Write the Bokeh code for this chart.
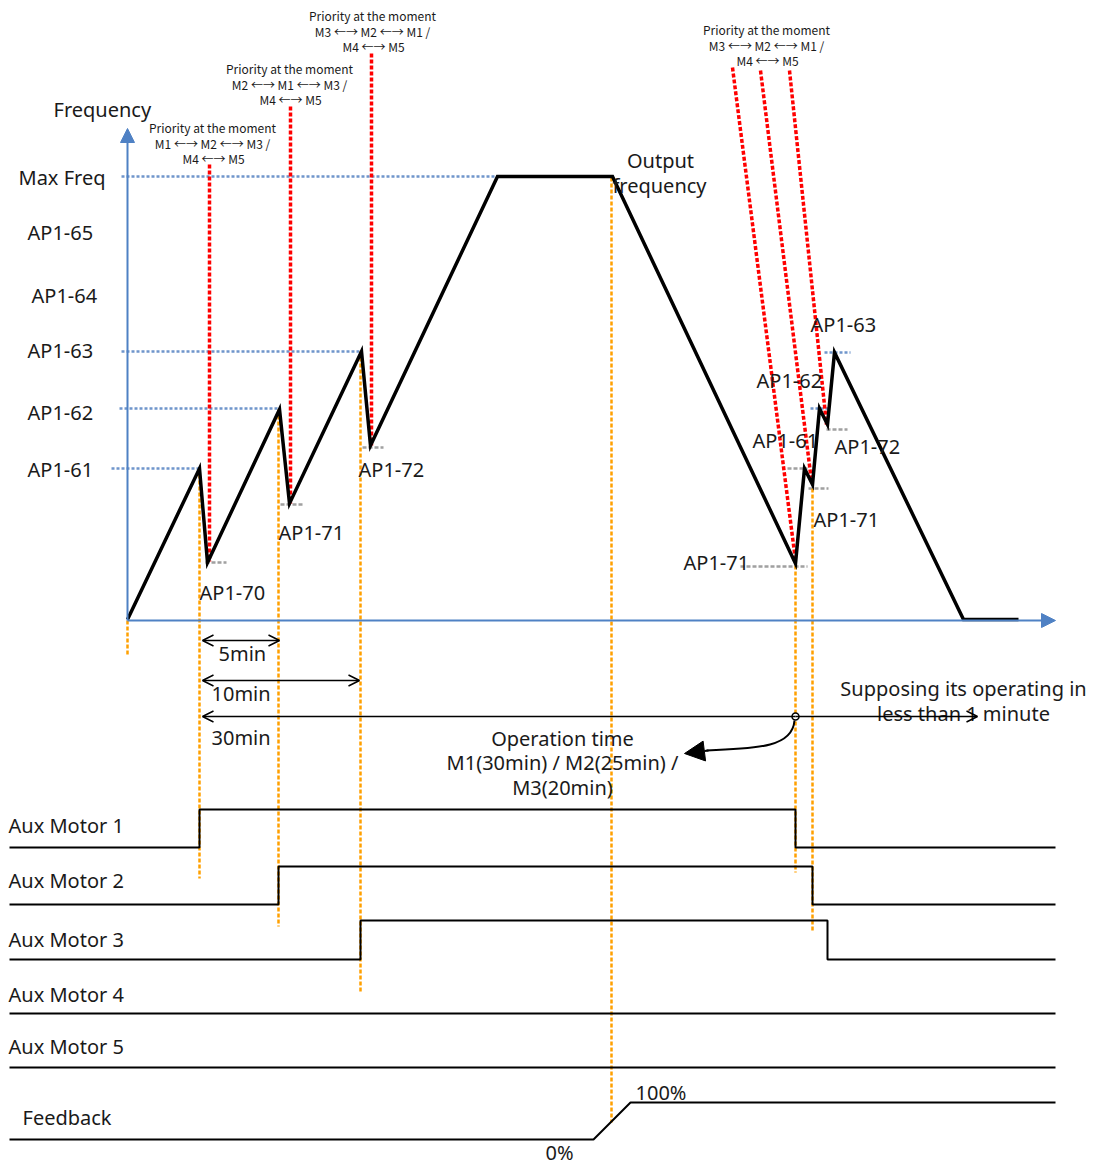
from bokeh.plotting import figure
from bokeh.models import Range1d, Arrow, OpenHead, NormalHead
from bokeh.core.properties import value
from bokeh.embed import file_html
from bokeh.resources import INLINE

FONT = value("Noto Sans")
FONT_SMALL = value("Noto Sans CJK KR")

# ---------------- data (diagram units) ----------------
# output-frequency profile (time, frequency-level position)
profile_t = [127, 199, 207, 279, 289, 361, 370, 497, 612, 795, 804, 812, 819, 827, 834, 963, 1018]
profile_f = [619, 468, 562, 409, 503, 351, 445, 176, 176, 563, 468, 484, 408, 424, 352, 619, 619]

# frequency levels on the vertical axis
level_names = ["Max Freq", "AP1-65", "AP1-64", "AP1-63", "AP1-62", "AP1-61"]
level_pos = [177, 232, 295, 350, 412, 469]
level_x = [18, 27, 31, 27, 27, 27]

# blue reference (start level) lines
ref_x0 = [121, 121, 119, 111, 824, 810]
ref_x1 = [612, 360, 279, 199, 850, 830]
ref_y = [176, 351, 408, 468, 352, 408]

# grey stop-level ticks
stop_x0 = [205, 280, 362, 740, 787, 808, 826]
stop_x1 = [226, 302, 383, 807, 807, 828, 847]
stop_y = [562, 504, 447, 566, 468, 488, 429]

# red priority markers (x top, y top, x bottom, y bottom)
pri_xt = [209, 290, 371, 732, 760, 789]
pri_yt = [164, 106, 53, 67, 70, 70]
pri_xb = [209, 290, 371, 795, 811, 826]
pri_yb = [561, 503, 445, 560, 481, 424]

# orange event markers
evt_x = [127, 199, 278, 360, 611, 795, 812]
evt_y0 = [620, 468, 409, 351, 177, 565, 488]
evt_y1 = [655, 878, 926, 993, 1122, 872, 930]

# point labels near the profile
pt_labels = ["AP1-70", "AP1-71", "AP1-72", "AP1-63", "AP1-62", "AP1-61", "AP1-72", "AP1-71", "AP1-71"]
pt_x = [199, 278, 358, 810, 756, 752, 834, 813, 683]
pt_y = [592, 532, 469, 324, 380, 440, 446, 519, 562]

# priority notes
pri_title = "Priority at the moment"
pri_line2 = ["M1 \u2190\u2192 M2 \u2190\u2192 M3 /", "M2 \u2190\u2192 M1 \u2190\u2192 M3 /",
             "M3 \u2190\u2192 M2 \u2190\u2192 M1 /", "M3 \u2190\u2192 M2 \u2190\u2192 M1 /"]
pri_line3 = ["M4 \u2190\u2192 M5"] * 4
pri_cx = [212, 289, 372, 766]
pri_cy = [127, 68, 15, 29]

# timing arrows
dur_labels = ["5min", "10min", "30min"]
dur_x0 = [202, 202, 202]
dur_x1 = [279, 359, 795]
dur_y = [640, 680, 716]
dur_lx = [218, 211, 211]
dur_ly = [653, 693, 737]

# aux motors: baseline, on time, off time
motor_names = ["Aux Motor 1", "Aux Motor 2", "Aux Motor 3", "Aux Motor 4", "Aux Motor 5"]
motor_low = [847, 904, 959, 1013, 1067]
motor_high = [809, 866, 920, 1013, 1067]
motor_on = [199, 278, 360, None, None]
motor_off = [795, 812, 827, None, None]
motor_label_y = [825, 880, 939, 994, 1046]
t_start, t_end = 9, 1055

# feedback
fb_t = [9, 593, 630, 1055]
fb_v = [1139, 1139, 1102, 1102]

# ---------------- figure ----------------
p = figure(width=1099, height=1167, x_range=Range1d(0, 1099), y_range=Range1d(1167, 0),
           output_backend="svg", toolbar_location=None, min_border=0)
p.axis.visible = False
p.grid.visible = False
p.outline_line_color = None
p.background_fill_color = "white"

BLUE = "#4F81C4"
BLUE_DOT = "#6F95CB"
ORANGE = "#FFA000"
RED = "#FF0000"
GREY = "#A0A0A0"
TXT = "#1a1a1a"

# axes
p.add_layout(Arrow(end=NormalHead(size=14, fill_color=BLUE, line_color=BLUE),
                   x_start=127, y_start=620, x_end=127, y_end=128, line_color=BLUE, line_width=2))
p.add_layout(Arrow(end=NormalHead(size=14, fill_color=BLUE, line_color=BLUE),
                   x_start=127, y_start=620, x_end=1055, y_end=620, line_color=BLUE, line_width=2))

# reference dotted lines
p.segment(x0=ref_x0, y0=ref_y, x1=ref_x1, y1=ref_y, line_color=BLUE_DOT, line_width=2.5, line_dash="3 2")
p.segment(x0=stop_x0, y0=stop_y, x1=stop_x1, y1=stop_y, line_color=GREY, line_width=2.5, line_dash="4 2")
p.segment(x0=evt_x, y0=evt_y0, x1=evt_x, y1=evt_y1, line_color=ORANGE, line_width=2.5, line_dash="4 2")
p.segment(x0=pri_xt, y0=pri_yt, x1=pri_xb, y1=pri_yb, line_color=RED, line_width=3.5, line_dash="4 2")

# frequency profile
p.line(profile_t, profile_f, line_color="black", line_width=3.5, line_join="miter")

# level labels
p.text(x=level_x, y=level_pos, text=level_names, text_font=FONT, text_font_size=value("20px"),
       text_align="left", text_baseline="middle", text_color=TXT)
p.text(x=[53], y=[109], text=["Frequency"], text_font=FONT, text_font_size=value("20px"),
       text_align="left", text_baseline="middle", text_color=TXT)
p.text(x=[660, 659], y=[160, 185], text=["Output", "frequency"], text_font=FONT,
       text_font_size=value("20px"), text_align="center", text_baseline="middle", text_color=TXT)
p.text(x=pt_x, y=pt_y, text=pt_labels, text_font=FONT, text_font_size=value("20px"),
       text_align="left", text_baseline="middle", text_color=TXT)

# priority notes
for cx, cy, l2, l3 in zip(pri_cx, pri_cy, pri_line2, pri_line3):
    p.text(x=[cx, cx, cx + 1], y=[cy, cy + 15.5, cy + 31], text=[pri_title, l2, l3], text_font=FONT_SMALL,
           text_font_size=value("12px"), text_align="center", text_baseline="middle", text_color=TXT)

# durations
for i in range(3):
    start = OpenHead(size=11, line_width=1.5)
    end = OpenHead(size=11, line_width=1.5) if i < 2 else None
    p.add_layout(Arrow(start=start, end=end, x_start=dur_x0[i], y_start=dur_y[i], x_end=dur_x1[i],
                       y_end=dur_y[i], line_width=1.5, line_color="black"))
p.text(x=dur_lx, y=dur_ly, text=dur_labels, text_font=FONT, text_font_size=value("20px"),
       text_align="left", text_baseline="middle", text_color=TXT)

# "less than 1 minute" arrow
p.add_layout(Arrow(end=OpenHead(size=11, line_width=1.5), x_start=795, y_start=716, x_end=977, y_end=716,
                   line_width=1.5, line_color="black"))
p.text(x=[963, 963], y=[688, 713], text=["Supposing its operating in", "less than 1 minute"],
       text_font=FONT, text_font_size=value("20px"), text_align="center", text_baseline="middle",
       text_color=TXT)

# curved arrow to operation time
p.bezier(x0=[794], y0=[720], x1=[706], y1=[750], cx0=[792], cy0=[746], cx1=[760], cy1=[748],
         line_color="black", line_width=2)
p.add_layout(Arrow(end=NormalHead(size=20, fill_color="black", line_color="black"),
                   x_start=708, y_start=750, x_end=684, y_end=753, line_width=2, line_color="black"))
p.scatter(x=[795], y=[716], marker="circle", size=7, fill_color="white", line_color="black", line_width=1.5)
p.text(x=[562, 562, 562], y=[738, 762, 787], text=["Operation time", "M1(30min) / M2(25min) /", "M3(20min)"],
       text_font=FONT, text_font_size=value("20px"), text_align="center", text_baseline="middle",
       text_color=TXT)

# aux motors
for name, lo, hi, on, off in zip(motor_names, motor_low, motor_high, motor_on, motor_off):
    if on is None:
        xs, ys = [t_start, t_end], [lo, lo]
    else:
        xs = [t_start, on, on, off, off, t_end]
        ys = [lo, lo, hi, hi, lo, lo]
    p.line(xs, ys, line_color="black", line_width=2)
p.text(x=[8] * 5, y=motor_label_y, text=motor_names, text_font=FONT, text_font_size=value("20px"),
       text_align="left", text_baseline="middle", text_color=TXT)

# feedback
p.line(fb_t, fb_v, line_color="black", line_width=2)
p.text(x=[22], y=[1117], text=["Feedback"], text_font=FONT, text_font_size=value("20px"),
       text_align="left", text_baseline="middle", text_color=TXT)
p.text(x=[545], y=[1152], text=["0%"], text_font=FONT, text_font_size=value("20px"),
       text_align="left", text_baseline="middle", text_color=TXT)
p.text(x=[635], y=[1092], text=["100%"], text_font=FONT, text_font_size=value("20px"),
       text_align="left", text_baseline="middle", text_color=TXT)

open("out.html", "w").write(file_html(p, INLINE))
